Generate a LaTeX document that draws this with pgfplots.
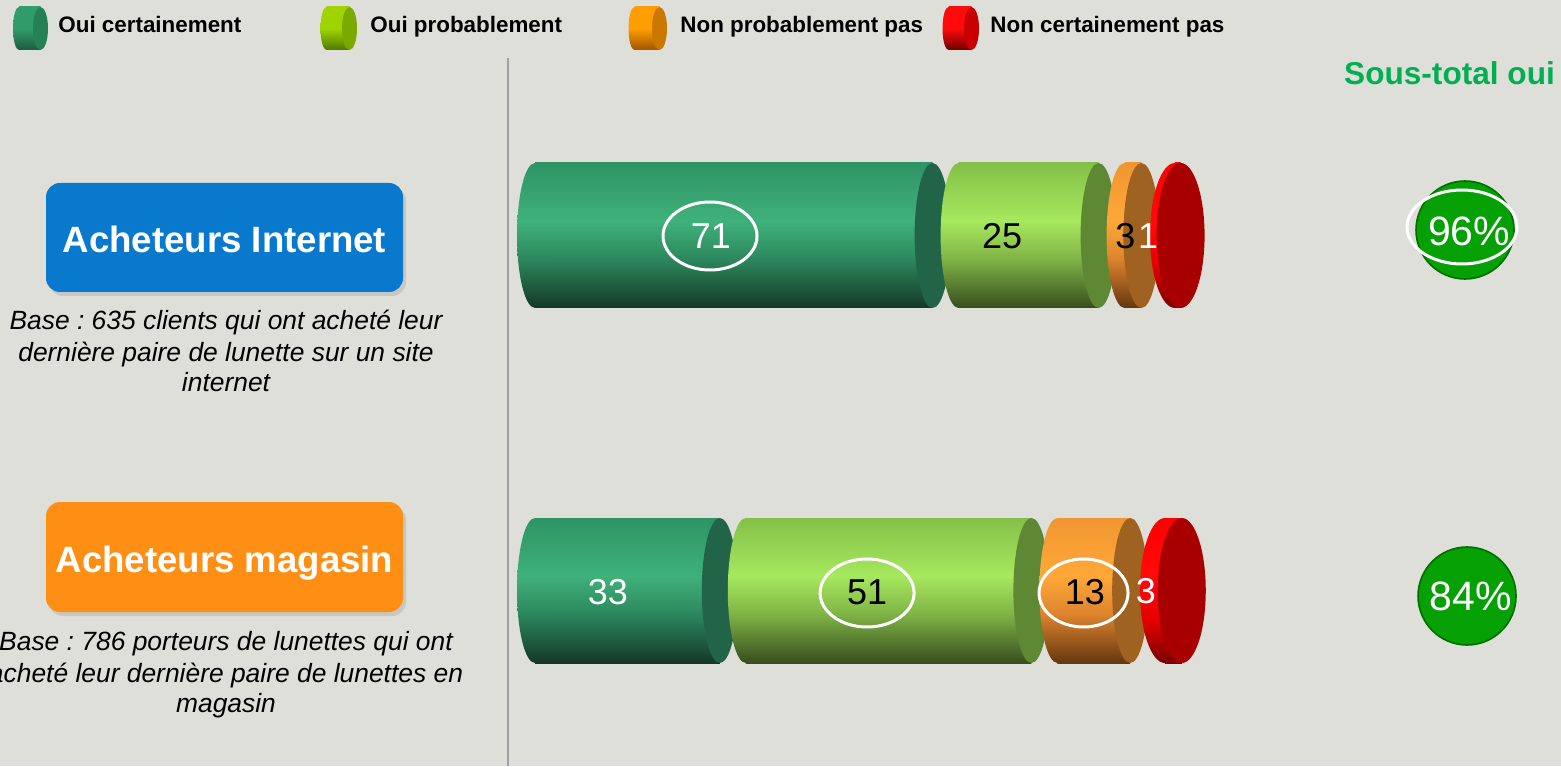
\documentclass[border=0pt]{standalone}
\usepackage{pgfplots}
\pgfplotsset{compat=1.18}
\usepackage{fontspec}
\setmainfont{Liberation Sans}
\frenchspacing

\definecolor{bg}{RGB}{223,223,217}
% bar body colours
\definecolor{gT}{RGB}{46,148,102}\definecolor{gL}{RGB}{64,177,122}\definecolor{gM}{RGB}{44,136,94}\definecolor{gB}{RGB}{20,56,38}\definecolor{gF}{RGB}{34,100,72}
\definecolor{lT}{RGB}{132,192,72}\definecolor{lL}{RGB}{166,232,94}\definecolor{lM}{RGB}{128,180,70}\definecolor{lB}{RGB}{55,78,30}\definecolor{lF}{RGB}{94,136,52}
\definecolor{oT}{RGB}{240,150,50}\definecolor{oL}{RGB}{255,168,56}\definecolor{oM}{RGB}{222,132,45}\definecolor{oB}{RGB}{100,55,15}\definecolor{oF}{RGB}{160,98,32}
\definecolor{rT}{RGB}{255,0,0}\definecolor{rL}{RGB}{255,10,10}\definecolor{rM}{RGB}{230,0,0}\definecolor{rB}{RGB}{120,0,0}\definecolor{rF}{RGB}{168,0,0}
\definecolor{subG}{RGB}{4,160,4}\definecolor{subD}{RGB}{0,110,0}
\definecolor{btnB}{RGB}{8,121,205}\definecolor{btnO}{RGB}{254,143,20}
\definecolor{stot}{RGB}{0,176,80}
% legend icon colours
\definecolor{LgT}{RGB}{48,156,106}\definecolor{LgB}{RGB}{28,92,62}\definecolor{LgF}{RGB}{38,128,86}
\definecolor{LlT}{RGB}{160,212,0}\definecolor{LlB}{RGB}{80,120,0}\definecolor{LlF}{RGB}{122,170,0}
\definecolor{LoT}{RGB}{255,158,0}\definecolor{LoB}{RGB}{160,85,0}\definecolor{LoF}{RGB}{204,120,0}
\definecolor{LrT}{RGB}{255,10,10}\definecolor{LrB}{RGB}{110,0,0}\definecolor{LrF}{RGB}{200,0,0}

\pgfdeclareverticalshading{cylG}{100bp}{color(0bp)=(gB); color(25bp)=(gB); color(42bp)=(gM); color(55bp)=(gL); color(75bp)=(gT); color(100bp)=(gT)}
\pgfdeclareverticalshading{cylL}{100bp}{color(0bp)=(lB); color(25bp)=(lB); color(42bp)=(lM); color(55bp)=(lL); color(75bp)=(lT); color(100bp)=(lT)}
\pgfdeclareverticalshading{cylO}{100bp}{color(0bp)=(oB); color(25bp)=(oB); color(42bp)=(oM); color(55bp)=(oL); color(75bp)=(oT); color(100bp)=(oT)}
\pgfdeclareverticalshading{cylR}{100bp}{color(0bp)=(rB); color(25bp)=(rB); color(40bp)=(rM); color(55bp)=(rL); color(75bp)=(rT); color(100bp)=(rT)}
\pgfdeclareverticalshading{legG}{100bp}{color(0bp)=(LgB); color(25bp)=(LgB); color(50bp)=(LgT); color(75bp)=(LgT); color(100bp)=(LgT)}
\pgfdeclareverticalshading{legL}{100bp}{color(0bp)=(LlB); color(25bp)=(LlB); color(50bp)=(LlT); color(75bp)=(LlT); color(100bp)=(LlT)}
\pgfdeclareverticalshading{legO}{100bp}{color(0bp)=(LoB); color(25bp)=(LoB); color(50bp)=(LoT); color(75bp)=(LoT); color(100bp)=(LoT)}
\pgfdeclareverticalshading{legR}{100bp}{color(0bp)=(LrB); color(25bp)=(LrB); color(50bp)=(LrT); color(75bp)=(LrT); color(100bp)=(LrT)}

% cylinder end marks (left rounded end and right face)
\newcommand{\capmark}[3]{\pgfdeclareplotmark{#1}{\pgfpathellipse{\pgfpointorigin}{\pgfqpoint{#2}{0pt}}{\pgfqpoint{0pt}{36.25pt}}\pgfshadepath{#3}{0}\pgfusepath{discard}}}
\newcommand{\facemark}[3]{\pgfdeclareplotmark{#1}{\pgfpathellipse{\pgfpointorigin}{\pgfqpoint{#2}{0pt}}{\pgfqpoint{0pt}{36.25pt}}\pgfsetfillcolor{#3}\pgfusepath{fill}}}
\capmark{capG}{9pt}{cylG}\facemark{faceG}{9pt}{gF}
\capmark{capL}{9pt}{cylL}\facemark{faceL}{9pt}{lF}
\capmark{capO}{9pt}{cylO}\facemark{faceO}{9pt}{oF}
\capmark{capR}{12.5pt}{cylR}\facemark{faceR}{12pt}{rF}

\pgfplotsset{myax/.style={at={(0,0)}, anchor=south west, scale only axis,
  width=780.5pt, height=383pt, xmin=-95.5357, xmax=183.2143, ymin=0, ymax=766,
  hide axis, clip=false}}

\newcommand{\legicon}[4]{% left centre x, face centre x, shading, face colour
  \shade[shading=#3] (#1,737.5) ellipse (6 and 21.5);
  \shade[shading=#3] (#1,716) rectangle (#2,759);
  \fill[#4] (#2,737.5) ellipse (7.5 and 21.5);}

\begin{document}
\begin{tikzpicture}
\path[use as bounding box, fill=bg] (0,0) rectangle (780.5pt,383pt);

\begin{scope}[x=0.5pt,y=0.5pt]
% legend
\legicon{19}{40.5}{legG}{LgF}
\legicon{326.5}{349.5}{legL}{LlF}
\legicon{634.5}{659.5}{legO}{LoF}
\legicon{948.5}{971.5}{legR}{LrF}
\begin{scope}[every node/.style={anchor=base west, inner sep=0pt, font=\bfseries\fontsize{11.2}{13}\selectfont}]
\node at (58,733) {Oui certainement};
\node at (370,733) {Oui probablement};
\node at (680,733) {Non probablement pas};
\node at (990,733) {Non certainement pas};
\end{scope}
% separator
\draw[color={rgb,255:red,160;green,160;blue,160}, line width=1pt] (508,0) -- (508,708);
% buttons
\fill[black!22, rounded corners=7pt] (49,470) rectangle (406,579);
\fill[btnB, rounded corners=7pt] (46,474) rectangle (403,583);
\fill[black!22, rounded corners=7pt] (49,150) rectangle (406,260);
\fill[btnO, rounded corners=7pt] (46,154) rectangle (403,264);
\node[anchor=base, inner sep=0pt, text=white, font=\bfseries\fontsize{18.3}{20}\selectfont] at (224.5,513) {Acheteurs Internet};
\node[anchor=base, inner sep=0pt, text=white, font=\bfseries\fontsize{18.3}{20}\selectfont] at (224.5,194) {Acheteurs magasin};
\begin{scope}[every node/.style={anchor=base, inner sep=0pt, font=\itshape\fontsize{13.2}{15.5}\selectfont}]
\node at (226,436) {Base : 635 clients qui ont acheté leur};
\node at (226,404) {dernière paire de lunette sur un site};
\node at (226,374) {internet};
\node at (226,116) {Base : 786 porteurs de lunettes qui ont};
\node at (226,84) {acheté leur dernière paire de lunettes en};
\node at (226,54) {magasin};
\end{scope}
\node[anchor=base, inner sep=0pt, text=stot, font=\bfseries\fontsize{15.8}{18}\selectfont] at (1449.5,681) {Sous-total oui};
\end{scope}

% bar bodies, row 1 (Acheteurs Internet)
\begin{axis}[myax, xbar stacked, bar width=145]
\addplot[draw=none, shade, shading=cylG] coordinates {(71,530.5)};
\addplot[draw=none, fill=none] coordinates {(4.64,530.5)};
\addplot[draw=none, shade, shading=cylL] coordinates {(25,530.5)};
\addplot[draw=none, fill=none] coordinates {(4.64,530.5)};
\addplot[draw=none, shade, shading=cylO] coordinates {(3,530.5)};
\addplot[draw=none, fill=none] coordinates {(6.0,530.5)};
\addplot[draw=none, shade, shading=cylR] coordinates {(1,530.5)};
\end{axis}
% bar bodies, row 2 (Acheteurs magasin)
\begin{axis}[myax, xbar stacked, bar width=145]
\addplot[draw=none, shade, shading=cylG] coordinates {(33,175.5)};
\addplot[draw=none, fill=none] coordinates {(4.64,175.5)};
\addplot[draw=none, shade, shading=cylL] coordinates {(51,175.5)};
\addplot[draw=none, fill=none] coordinates {(4.64,175.5)};
\addplot[draw=none, shade, shading=cylO] coordinates {(13,175.5)};
\addplot[draw=none, fill=none] coordinates {(6.21,175.5)};
\addplot[draw=none, shade, shading=cylR] coordinates {(3,175.5)};
\end{axis}

% cylinder ends and sub-total discs
\begin{axis}[myax]
\addplot[only marks, mark=capG] coordinates {(0,530.5) (0,175.5)};
\addplot[only marks, mark=faceG] coordinates {(71,530.5) (33,175.5)};
\addplot[only marks, mark=capL] coordinates {(75.64,530.5) (37.64,175.5)};
\addplot[only marks, mark=faceL] coordinates {(100.64,530.5) (88.64,175.5)};
\addplot[only marks, mark=capO] coordinates {(105.28,530.5) (93.28,175.5)};
\addplot[only marks, mark=faceO] coordinates {(108.28,530.5) (106.28,175.5)};
\addplot[only marks, mark=capR] coordinates {(114.28,530.5) (112.49,175.5)};
\addplot[only marks, mark=faceR] coordinates {(115.28,530.5) (115.49,175.5)};
\addplot[only marks, mark=*, mark size=24.5pt, mark options={fill=subG, draw=subD, line width=0.8pt}] coordinates {(166.07,536) (166.43,170)};
\end{axis}

% value labels on top
\begin{axis}[myax]
\begin{scope}[every node/.style={inner sep=0pt, font=\fontsize{18}{20}\selectfont}]
\node[text=white] at (axis cs:31.4,530) {71};
\node[text=black] at (axis cs:83.4,530) {25};
\node[text=black] at (axis cs:105.4,530) {3};
\node[text=white] at (axis cs:109.5,530) {1};
\node[text=white] at (axis cs:13.0,174) {33};
\node[text=black] at (axis cs:59.3,174) {51};
\node[text=black] at (axis cs:98.2,174) {13};
\node[text=white] at (axis cs:109.1,174.5) {3};
\end{scope}
\node[inner sep=0pt, text=white, font=\fontsize{20.5}{22}\selectfont] at (axis cs:166.79,535) {96\%};
\node[inner sep=0pt, text=white, font=\fontsize{20.5}{22}\selectfont] at (axis cs:167.14,170) {84\%};
\draw[white, line width=1.5pt] (axis cs:31.25,530) ellipse [x radius=23.5pt, y radius=17pt];
\draw[white, line width=1.5pt] (axis cs:59.3,173) ellipse [x radius=23.5pt, y radius=17pt];
\draw[white, line width=1.5pt] (axis cs:97.95,173) ellipse [x radius=22.25pt, y radius=17pt];
\draw[white, line width=1.5pt] (axis cs:165.54,539) ellipse [x radius=27.5pt, y radius=18.5pt];
\end{axis}
\end{tikzpicture}
\end{document}
